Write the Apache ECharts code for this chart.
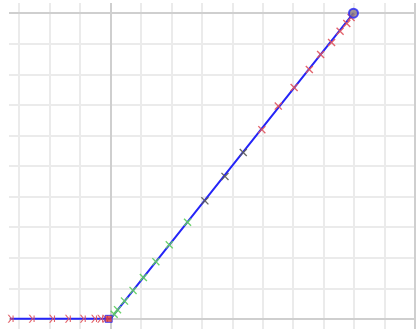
<!DOCTYPE html>
<html>
<head>
<meta charset="utf-8">
<script src="https://cdn.jsdelivr.net/npm/echarts@6.0.0/dist/echarts.min.js"></script>
<style>
html,body{margin:0;padding:0;background:#ffffff;}
#chart{width:417px;height:329px;}
</style>
</head>
<body>
<div id="chart"></div>
<script>
// Path of the blue curve
const pathX = [-3.30, 0, 7.98];
const pathY = [0, 0, 10];
// Red markers on the flat part
const flatRedX = [-3.28, -2.59, -1.92, -1.40, -0.91, -0.54, -0.34, -0.18];
const flatRedY = [0, 0, 0, 0, 0, 0, 0, 0];
// Green markers on the rising part
const greenX = [0.12, 0.23, 0.46, 0.74, 1.08, 1.49, 1.93, 2.53];
const greenY = [0.15, 0.30, 0.58, 0.93, 1.35, 1.87, 2.42, 3.16];
// Dark markers
const darkX = [3.10, 3.76, 4.36];
const darkY = [3.86, 4.66, 5.44];
// Red markers near the end
const redX = [4.97, 5.51, 6.03, 6.53, 6.90, 7.26, 7.54, 7.76, 7.90];
const redY = [6.19, 6.96, 7.57, 8.16, 8.65, 9.04, 9.41, 9.66, 9.86];
// Start / end points
const startPt = [[-0.06, 0]];
const endPt = [[7.98, 10]];
// Major reference lines
const majorX = [0, 10];
const majorY = [0, 10];

const zip = (a, b) => a.map((v, i) => [v, b[i]]);
const xMark = 'path://M0,1.2L1.2,0L5,3.8L8.8,0L10,1.2L6.2,5L10,8.8L8.8,10L5,6.2L1.2,10L0,8.8L3.8,5Z';
const chevron = 'path://M0,0L2,0L6.5,5L2,10L0,10L4.5,5ZM7,1L8.6,1L8.6,9L7,9Z';

const chart = echarts.init(document.getElementById('chart'), null, {renderer: 'canvas'});
chart.setOption({
  animation: false,
  backgroundColor: '#ffffff',
  grid: {left: 9, right: 2, top: 3, bottom: 0, containLabel: false},
  xAxis: {
    type: 'value', min: -10/3, max: 10, minInterval: 1, maxInterval: 1, splitNumber: 13,
    axisLine: {show: false}, axisTick: {show: false}, axisLabel: {show: false},
    splitLine: {show: true, showMinLine: false, showMaxLine: true, lineStyle: {color: '#ebebeb', width: 2}}
  },
  yAxis: {
    type: 'value', min: -1/3, max: 31/3, minInterval: 1, maxInterval: 1, splitNumber: 10,
    axisLine: {show: false}, axisTick: {show: false}, axisLabel: {show: false},
    splitLine: {show: true, showMinLine: false, showMaxLine: false, lineStyle: {color: '#ebebeb', width: 2}}
  },
  series: [
    {
      type: 'line', data: [], z: 1, silent: true,
      markLine: {
        z: 1, silent: true, symbol: 'none', label: {show: false}, animation: false,
        lineStyle: {color: '#cfcfcf', width: 2, type: 'solid'},
        emphasis: {disabled: true},
        data: majorX.map(v => ({xAxis: v})).concat(majorY.map(v => ({yAxis: v})))
      }
    },
    {
      type: 'line', data: zip(pathX, pathY), z: 3, symbol: 'none',
      lineStyle: {color: '#2424f8', width: 2}
    },
    {
      type: 'scatter', data: zip(flatRedX, flatRedY), z: 4, symbol: chevron, symbolSize: [6, 8],
      itemStyle: {color: '#e0535c', opacity: 0.9}
    },
    {
      type: 'scatter', data: zip(greenX, greenY), z: 4, symbol: xMark, symbolSize: 8,
      itemStyle: {color: '#62d062', opacity: 0.95}
    },
    {
      type: 'scatter', data: zip(darkX, darkY), z: 4, symbol: xMark, symbolSize: 8,
      itemStyle: {color: '#5a5a5a', opacity: 0.9}
    },
    {
      type: 'scatter', data: zip(redX, redY), z: 4, symbol: xMark, symbolSize: 8,
      itemStyle: {color: '#e0535c', opacity: 0.9}
    },
    {
      type: 'scatter', data: startPt, z: 5, symbol: 'rect', symbolSize: 7,
      itemStyle: {color: '#d83a3a', borderColor: '#2424f8', borderWidth: 1}
    },
    {
      type: 'scatter', data: endPt, z: 5, symbol: 'circle', symbolSize: 9,
      itemStyle: {color: '#8a7a80', borderColor: '#2424f8', borderWidth: 2}
    }
  ]
});
</script>
</body>
</html>
